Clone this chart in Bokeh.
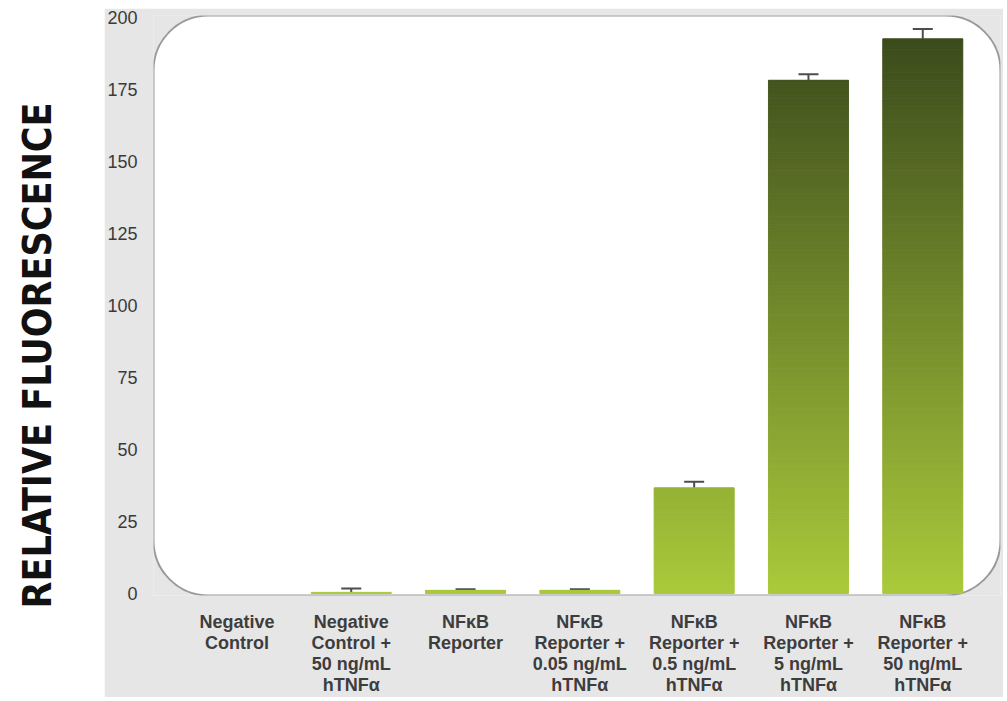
import numpy as np
from bokeh.plotting import figure
from bokeh.models import (FixedTicker, BoxAnnotation, Whisker, TeeHead, Label,
                          ColumnDataSource, Range1d, Spacer)
from bokeh.layouts import row, column
from bokeh.embed import file_html
from bokeh.resources import INLINE

# ---------------- data ----------------
categories = [
    "Negative\nControl",
    "Negative\nControl +\n50 ng/mL\nhTNFα",
    "NFκB\nReporter",
    "NFκB\nReporter +\n0.05 ng/mL\nhTNFα",
    "NFκB\nReporter +\n0.5 ng/mL\nhTNFα",
    "NFκB\nReporter +\n5 ng/mL\nhTNFα",
    "NFκB\nReporter +\n50 ng/mL\nhTNFα",
]
values = [0.0, 0.4, 1.1, 1.1, 36.7, 178.2, 192.6]
errors = [0.0, 1.3, 0.4, 0.4, 2.1, 2.1, 3.4]
y_ticks = [0, 25, 50, 75, 100, 125, 150, 175, 200]
y_title = "RELATIVE FLUORESCENCE"

# ---------------- style ----------------
GRAY = "#e6e6e7"
C_BOTTOM = np.array([0xaa, 0xca, 0x3b])
C_TOP = np.array([0x3a, 0x4a, 0x1c])
GRAD_MAX = 195.0
BAR_W = 0.70
X_START, X_END = -0.73, 6.68
Y_START, Y_END = -0.69, 200.69


def grad_color(v):
    f = min(max(v / GRAD_MAX, 0.0), 1.0)
    c = C_BOTTOM + (C_TOP - C_BOTTOM) * f
    return "#%02x%02x%02x" % tuple(int(round(t)) for t in c)


# ---------------- left title panel ----------------
LH = 697
left = figure(width=104, height=LH, x_range=Range1d(0, 104), y_range=Range1d(0, LH),
              output_backend="svg", toolbar_location=None, min_border=0)
left.axis.visible = False
left.grid.visible = False
left.outline_line_color = None
left.background_fill_color = "white"
left.border_fill_color = "white"
left.add_layout(Label(x=37, y=LH - 355, text=y_title, angle=np.pi / 2,
                      text_align="center", text_baseline="middle",
                      text_font="DejaVu Sans Condensed", text_font_style="bold",
                      text_font_size="39px", text_color="#111111"))

# ---------------- main chart ----------------
p = figure(width=899, height=LH - 8, x_range=Range1d(X_START, X_END),
           y_range=Range1d(Y_START, Y_END), output_backend="svg",
           toolbar_location=None, min_border_left=44, min_border_right=3,
           min_border_top=7, min_border_bottom=100)
p.background_fill_color = GRAY
p.border_fill_color = GRAY
p.outline_line_color = None
p.grid.visible = False

panel = BoxAnnotation(left=X_START, right=X_END, bottom=Y_START, top=Y_END,
                      fill_color="white", fill_alpha=1.0,
                      line_color="#9a9a9a", line_width=2, line_alpha=1.0,
                      border_radius=55, level="underlay")
p.add_layout(panel)

# gradient bars built from thin slices of each bar
xs, bots, tops, cols = [], [], [], []
step = 1.0
for i, v in enumerate(values):
    b = 0.0
    while b < v:
        t = min(b + step, v)
        xs.append(i)
        bots.append(b)
        tops.append(t)
        cols.append(grad_color((b + t) / 2))
        b = t
src = ColumnDataSource(dict(x=xs, bottom=bots, top=tops, color=cols))
p.vbar(x="x", width=BAR_W, bottom="bottom", top="top", source=src,
       fill_color="color", line_color="color", line_width=1)

idx = [i for i, e in enumerate(errors) if e > 0]
err_src = ColumnDataSource(dict(x=idx,
                                lower=[values[i] for i in idx],
                                upper=[values[i] + errors[i] for i in idx]))
wh = Whisker(base="x", lower="lower", upper="upper", source=err_src,
             line_color="#4d4d4d", line_width=2,
             upper_head=TeeHead(size=20, line_color="#4d4d4d", line_width=2),
             lower_head=None)
p.add_layout(wh)

# axes
p.yaxis.ticker = FixedTicker(ticks=y_ticks)
p.yaxis.axis_line_color = None
p.yaxis.major_tick_line_color = None
p.yaxis.minor_tick_line_color = None
p.yaxis.major_label_standoff = 10
p.yaxis.major_label_text_font = "Liberation Sans"
p.yaxis.major_label_text_font_size = "18px"
p.yaxis.major_label_text_color = "#3a3a3a"

p.xaxis.ticker = FixedTicker(ticks=list(range(len(categories))))
p.xaxis.major_label_overrides = {i: c for i, c in enumerate(categories)}
p.xaxis.axis_line_color = None
p.xaxis.major_tick_line_color = None
p.xaxis.minor_tick_line_color = None
p.xaxis.major_label_standoff = 10
p.xaxis.major_label_text_font = "Liberation Sans"
p.xaxis.major_label_text_font_style = "bold"
p.xaxis.major_label_text_font_size = "18px"
p.xaxis.major_label_text_color = "#3d3d3d"
p.xaxis.major_label_text_line_height = 1.05

right = column(Spacer(height=8, width=899), p, spacing=0)
layout = row(left, right, spacing=0)
open("out.html", "w").write(file_html(layout, INLINE))
